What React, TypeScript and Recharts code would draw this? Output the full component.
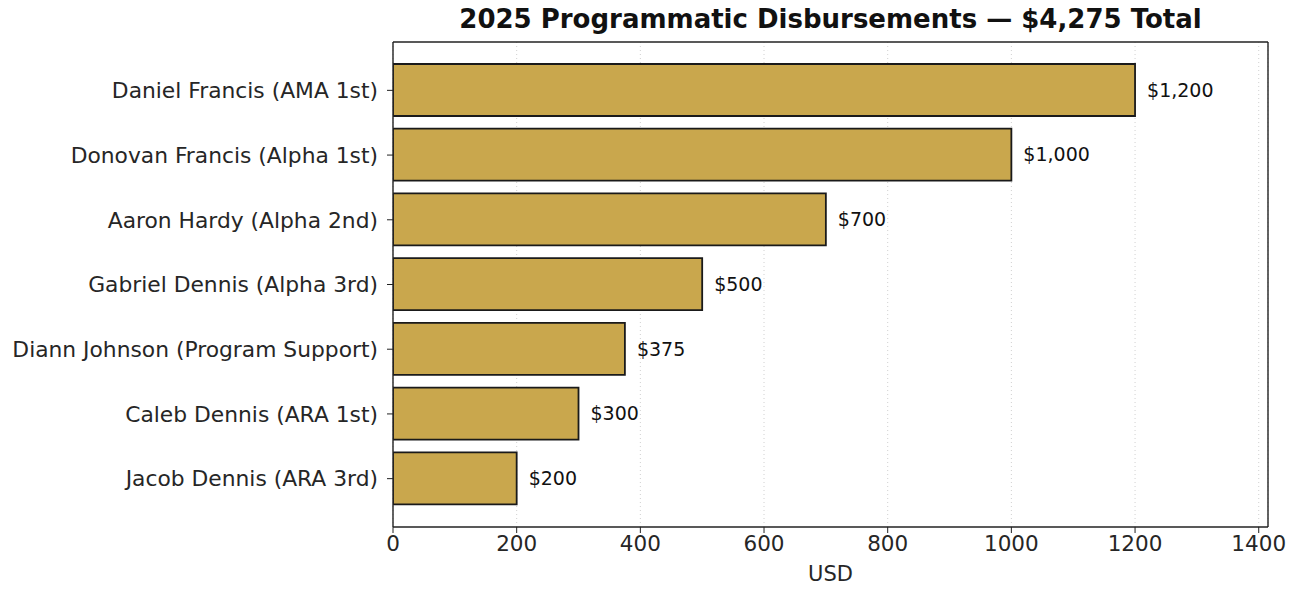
import { Bar, BarChart, CartesianGrid, LabelList, XAxis, YAxis } from "recharts";

const names = [
  "Daniel Francis (AMA 1st)",
  "Donovan Francis (Alpha 1st)",
  "Aaron Hardy (Alpha 2nd)",
  "Gabriel Dennis (Alpha 3rd)",
  "Diann Johnson (Program Support)",
  "Caleb Dennis (ARA 1st)",
  "Jacob Dennis (ARA 3rd)",
];
const amounts = [1200, 1000, 700, 500, 375, 300, 200];
const xTicks = [0, 200, 400, 600, 800, 1000, 1200, 1400];

const data = names.map((name, i) => ({ name, usd: amounts[i] }));

const font = "'DejaVu Sans', sans-serif";
const ink = "#262626";
const frame = { stroke: "#222", strokeWidth: 1.4 };

export default function App() {
  return (
    <div style={{ position: "absolute", left: 0, top: 0, width: 1296, height: 592, background: "#fff", fontFamily: font }}>
      <div
        style={{
          position: "absolute",
          top: 4,
          left: 393,
          width: 875,
          textAlign: "center",
          fontSize: 26,
          fontWeight: "bold",
          color: "#111",
        }}
      >
        2025 Programmatic Disbursements — $4,275 Total
      </div>
      <BarChart
        width={1296}
        height={592}
        data={data}
        layout="vertical"
        margin={{ top: 41, right: 27, bottom: 25, left: 0 }}
      >
        <CartesianGrid horizontal={false} stroke="#d0d0d0" strokeDasharray="1 3" />
        <XAxis
          type="number"
          domain={[0, 1415]}
          ticks={xTicks}
          allowDataOverflow
          height={40}
          tickSize={6}
          tickMargin={3}
          axisLine={frame}
          tickLine={{ stroke: "#222" }}
          tick={{ fill: ink, fontSize: 21.5, fontFamily: font }}
          label={{ value: "USD", position: "insideBottom", offset: -14, fill: ink, fontSize: 21, fontFamily: font }}
        />
        <XAxis xAxisId="top" orientation="top" type="number" domain={[0, 1415]} height={1} tick={false} tickLine={false} axisLine={frame} />
        <YAxis
          type="category"
          dataKey="name"
          width={393}
          padding={{ top: 16, bottom: 16 }}
          tickSize={6}
          tickMargin={9}
          axisLine={frame}
          tickLine={{ stroke: "#222" }}
          tick={{ fill: ink, fontSize: 21.8, fontFamily: font }}
        />
        <YAxis yAxisId="right" orientation="right" type="category" dataKey="name" width={1} tick={false} tickLine={false} axisLine={frame} />
        <Bar dataKey="usd" fill="#C9A74D" stroke="#1a1a1a" strokeWidth={1.8} barSize={52} isAnimationActive={false}>
          <LabelList
            dataKey="usd"
            position="right"
            offset={12}
            fill="#111"
            fontSize={19}
            fontFamily={font}
            formatter={(v: any) => `$${Number(v).toLocaleString("en-US")}`}
          />
        </Bar>
      </BarChart>
    </div>
  );
}
